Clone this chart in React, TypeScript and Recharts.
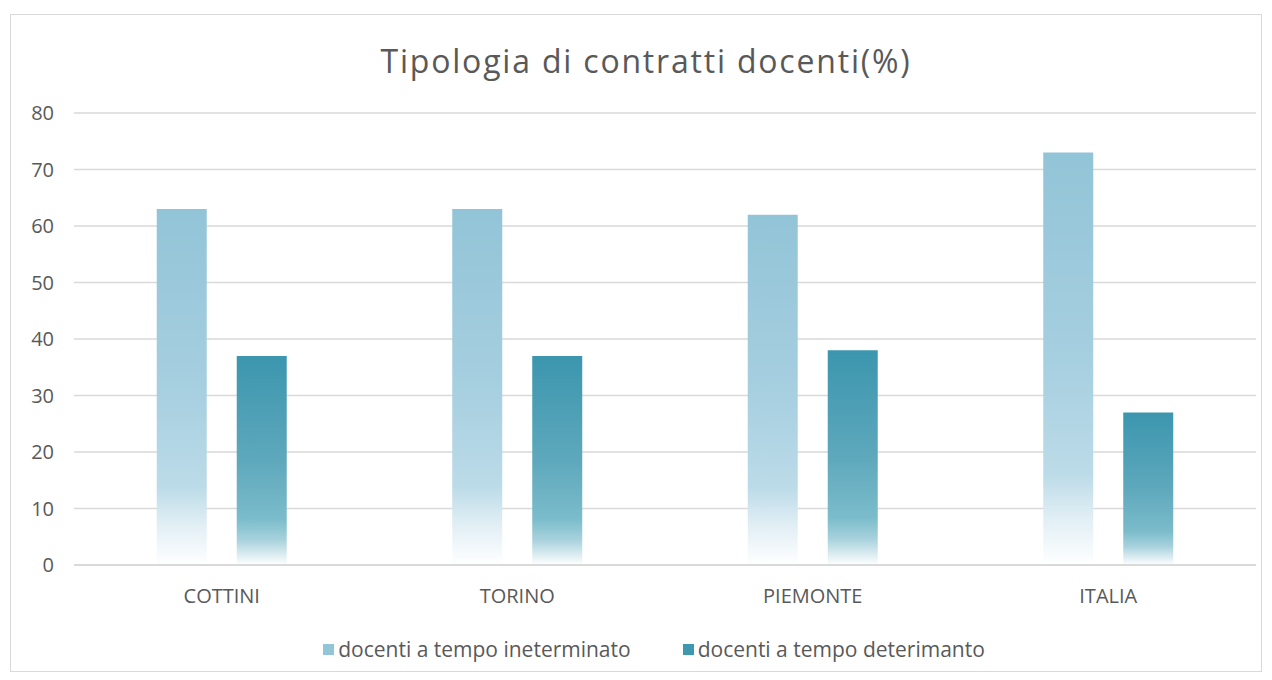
import { Bar, BarChart, CartesianGrid, XAxis, YAxis } from "recharts"

const categories = ["COTTINI", "TORINO", "PIEMONTE", "ITALIA"]
const indeterminato = [63, 63, 62, 73]
const determinato = [37, 37, 38, 27]
const yTicks = [0, 10, 20, 30, 40, 50, 60, 70, 80]

const seriesNames = ["docenti a tempo ineterminato", "docenti a tempo deterimanto"]
const seriesColors = ["#92c5d8", "#3d98b0"]

const data = categories.map((name, i) => ({
  name,
  ind: indeterminato[i],
  det: determinato[i],
}))

const FONT = "'Open Sans', 'Noto Sans', sans-serif"
const TEXT = "#595959"

function LegendBox() {
  return (
    <div
      style={{
        position: "absolute",
        left: 18,
        width: "100%",
        top: 620,
        display: "flex",
        justifyContent: "center",
        gap: 52,
        fontFamily: FONT,
        fontSize: 21,
        color: TEXT,
      }}
    >
      {seriesNames.map((n, i) => (
        <div key={n} style={{ display: "flex", alignItems: "center" }}>
          <span style={{ width: 11, height: 11, background: seriesColors[i], marginRight: 4, display: "inline-block" }} />
          <span>{n}</span>
        </div>
      ))}
    </div>
  )
}

export default function App() {
  return (
    <div
      style={{
        position: "relative",
        marginTop: 6,
        marginLeft: 2,
        width: 1250,
        height: 656,
        border: "1px solid #d9d9d9",
        background: "#fff",
      }}
    >
      <div
        style={{
          position: "absolute",
          top: 24,
          left: 10,
          width: "100%",
          textAlign: "center",
          fontFamily: FONT,
          fontSize: 32,
          letterSpacing: 1.8,
          color: TEXT,
          lineHeight: "44px",
        }}
      >
        Tipologia di contratti docenti(%)
      </div>
      <BarChart
        width={1250}
        height={656}
        data={data}
        margin={{ top: 98, right: 5, left: 0, bottom: 76 }}
        barCategoryGap="28%"
        barGap={30}
      >
        <defs>
          <linearGradient id="gInd" x1="0" y1="0" x2="0" y2="1">
            <stop offset="0%" stopColor="#92c4d7" />
            <stop offset="50%" stopColor="#a6cfe0" />
            <stop offset="78%" stopColor="#bcdbe8" />
            <stop offset="89%" stopColor="#e2eff5" />
            <stop offset="100%" stopColor="#ffffff" />
          </linearGradient>
          <linearGradient id="gDet" x1="0" y1="0" x2="0" y2="1">
            <stop offset="0%" stopColor="#3b96ae" />
            <stop offset="50%" stopColor="#5ea8bc" />
            <stop offset="78%" stopColor="#7bbccb" />
            <stop offset="88%" stopColor="#a8d2dd" />
            <stop offset="100%" stopColor="#ffffff" />
          </linearGradient>
        </defs>
        <CartesianGrid vertical={false} stroke="#d9d9d9" strokeWidth={1.3} />
        <XAxis
          dataKey="name"
          axisLine={{ stroke: "#d9d9d9", strokeWidth: 2 }}
          tickLine={false}
          tickSize={0}
          tickMargin={24}
          tick={{ fill: TEXT, fontSize: 20, fontFamily: FONT }}
        />
        <YAxis
          width={63}
          domain={[0, 80]}
          ticks={yTicks}
          axisLine={false}
          tickLine={false}
          tickSize={0}
          tickMargin={20}
          tick={{ fill: TEXT, fontSize: 20, fontFamily: FONT }}
        />
        <Bar dataKey="ind" name={seriesNames[0]} fill="url(#gInd)" isAnimationActive={false} />
        <Bar dataKey="det" name={seriesNames[1]} fill="url(#gDet)" isAnimationActive={false} />
      </BarChart>
      <LegendBox />
    </div>
  )
}
